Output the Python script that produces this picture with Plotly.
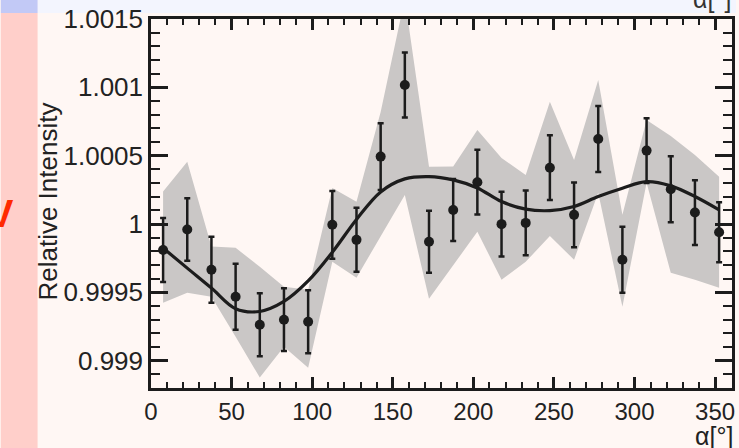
import plotly.graph_objects as go

# ---------------- data ----------------
alpha = [7.5, 22.5, 37.5, 52.5, 67.5, 82.5, 97.5, 112.5, 127.5, 142.5, 157.5, 172.5,
         187.5, 202.5, 217.5, 232.5, 247.5, 262.5, 277.5, 292.5, 307.5, 322.5, 337.5, 352.5]

intensity = [0.99981, 0.99996, 0.999665, 0.999468, 0.999263, 0.99930, 0.999285, 0.999994,
             0.999884, 1.000493, 1.001017, 0.99987, 1.000103, 1.000306, 0.999999, 1.000008,
             1.000412, 1.000067, 1.000622, 0.999738, 1.000537, 1.000254, 1.000084, 0.99994]

stat_err = [0.000234, 0.000228, 0.000241, 0.000241, 0.000230, 0.000230, 0.000230, 0.000248,
            0.000234, 0.000245, 0.000237, 0.000227, 0.000227, 0.000237, 0.000237, 0.000237,
            0.000237, 0.000237, 0.000241, 0.000241, 0.000237, 0.000241, 0.000237, 0.000219]

band_hi = [1.000237, 1.000456, 0.999835, 0.999826, 0.999687, 0.999541, 0.999519, 1.000264,
           1.000162, 1.00082, 1.00165, 1.000418, 1.00042, 1.000688, 1.000483, 1.000359,
           1.000895, 1.000469, 1.001053, 1.000067, 1.000761, 1.000644, 1.000505, 1.000345]

band_lo = [0.999424, 0.999497, 0.999468, 0.999175, 0.998876, 0.999102, 0.998949, 0.999723,
           0.999607, 0.999906, 1.000213, 0.999453, 0.999702, 0.999943, 0.999592, 0.999723,
           0.999913, 0.999738, 1.000228, 0.999395, 1.000301, 0.999643, 0.999592, 0.999533]

fit_curve = [0.999824, 0.999677, 0.999531, 0.99938, 0.99936, 0.999433, 0.999583, 0.999793,
             1.000033, 1.000235, 1.00033, 1.000347, 1.000323, 1.000264, 1.000164, 1.000109,
             1.000098, 1.000128, 1.000201, 1.000262, 1.00031, 1.000279, 1.000201, 1.000103]

x_ticks = [0, 50, 100, 150, 200, 250, 300, 350]
x_tick_labels = ["0", "50", "100", "150", "200", "250", "300", "350"]
y_ticks = [0.999, 0.9995, 1.0, 1.0005, 1.001, 1.0015]
y_tick_labels = ["0.999", "0.9995", "1", "1.0005", "1.001", "1.0015"]

# ---------------- layout geometry ----------------
W, H = 739, 448
ML, MR, MT, MB = 151, 4, 19, 60
PW, PH = W - ML - MR, H - MT - MB


def px(p):
    return (p - ML) / PW


def py(p):
    return (H - MB - p) / PH


INK = "#1c1c1c"
BG = "#fff7f4"
FONT = "Liberation Sans, Arial, Helvetica, sans-serif"

fig = go.Figure()

# systematic band
fig.add_trace(go.Scatter(
    x=alpha + alpha[::-1],
    y=band_hi + band_lo[::-1],
    mode="lines", fill="toself",
    line=dict(width=0, color="rgba(0,0,0,0)"),
    fillcolor="#cac7c6",
    hoverinfo="skip", showlegend=False,
))

# data points
fig.add_trace(go.Scatter(
    x=alpha, y=intensity, mode="markers",
    marker=dict(size=10, color=INK),
    error_y=dict(type="data", array=stat_err, thickness=2.5, width=3, color=INK),
    showlegend=False,
))

# fit
fig.add_trace(go.Scatter(
    x=alpha, y=fit_curve, mode="lines",
    line=dict(color=INK, width=3.2, shape="spline", smoothing=1.0),
    showlegend=False,
))

axis_common = dict(
    showline=True, linecolor=INK, linewidth=2.5, mirror="ticks",
    ticks="inside", tickcolor=INK, tickwidth=2.5,
    showgrid=False, zeroline=False,
)

fig.update_xaxes(
    range=[0, 360.5], tickmode="array", tickvals=x_ticks, ticktext=x_tick_labels,
    ticklen=11, tickfont=dict(family=FONT, size=24, color="#222"),
    minor=dict(tickmode="linear", tick0=0, dtick=10, ticks="inside", ticklen=6,
               tickwidth=2, tickcolor=INK),
    **axis_common,
)
fig.update_yaxes(
    range=[0.9988, 1.0015], tickmode="array", tickvals=y_ticks, ticktext=y_tick_labels,
    ticklen=17, tickfont=dict(family=FONT, size=26, color="#222"),
    minor=dict(tickmode="linear", tick0=0.999, dtick=0.0001, ticks="inside", ticklen=9,
               tickwidth=2, tickcolor=INK),
    **axis_common,
)

shapes = [
    # pink strip on the left
    dict(type="rect", xref="paper", yref="paper", x0=px(0), x1=px(37), y0=py(448), y1=py(13),
         fillcolor="#ffcfca", line=dict(width=0), layer="below"),
    # light strip at the top
    dict(type="rect", xref="paper", yref="paper", x0=px(37), x1=px(739), y0=py(13), y1=py(0),
         fillcolor="#f3f5fe", line=dict(width=0), layer="below"),
    # blue block top-left
    dict(type="rect", xref="paper", yref="paper", x0=px(0), x1=px(37), y0=py(13), y1=py(0),
         fillcolor="#c2c9f6", line=dict(width=0), layer="below"),
]

annotations = [
    dict(text="Relative Intensity", textangle=-90, xref="paper", yref="paper",
         x=px(47), y=py(202), xanchor="center", yanchor="middle", showarrow=False,
         font=dict(family=FONT, size=26, color="#222")),
    dict(text="α[°]", xref="paper", yref="paper", x=px(738), y=py(436),
         xanchor="right", yanchor="middle", showarrow=False,
         font=dict(family=FONT, size=25, color="#222")),
    dict(text="α[°]", xref="paper", yref="paper", x=px(736), y=py(15),
         xanchor="right", yanchor="bottom", showarrow=False,
         font=dict(family=FONT, size=25, color="#333")),
    dict(text="<b>V</b>", xref="paper", yref="paper", x=px(0), y=py(214),
         xanchor="center", yanchor="middle", showarrow=False,
         font=dict(family=FONT, size=38, color="#ff2a00")),
]

fig.update_layout(
    width=W, height=H,
    margin=dict(l=ML, r=MR, t=MT, b=MB, pad=0),
    paper_bgcolor=BG, plot_bgcolor=BG,
    shapes=shapes, annotations=annotations,
    showlegend=False,
)

fig.write_html("out.html")
